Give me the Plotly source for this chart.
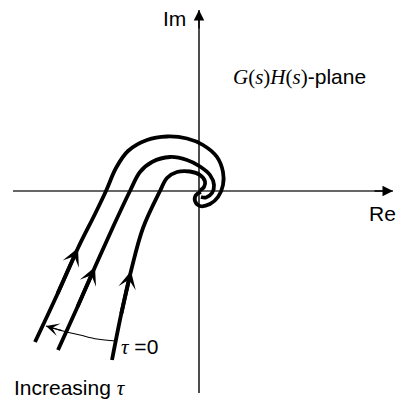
import plotly.graph_objects as go

# Nyquist loci (Re, Im) of G(s)H(s) for three transport lags; the rightmost locus is tau = 0
outer_re = [-164, -142, -121, -104, -93, -83, -71, -52, -32, -12, 4, 18, 24, 24, 19, 11, 1, -4, -3, 2]
outer_im = [-151, -104, -57, -23, 0, 23, 40, 51, 54.5, 52.5, 46, 34, 19, 6, -6, -13, -15, -10, -4, -1]
middle_re = [-141, -122, -104, -86, -69, -59, -47, -29, -12, 1, 11, 15, 13, 7, 2]
middle_im = [-159, -117, -76, -36, 0, 19, 29, 34, 31, 24.5, 16, 6, -2, -6.5, -6]
inner_re = [-87, -78, -68, -56, -39, -32, -22, -9, 1, 6, 5, 1]
inner_im = [-169, -124, -80, -37, 0, 13, 19, 19.5, 16, 9.5, 4, 0.5]

# arc showing the direction of increasing tau
tau_arc_re = [-83, -102, -119, -136, -153]
tau_arc_im = [-150, -148, -144, -140, -135]

# extent of the Re and Im axes
re_axis = [-186, 194]
im_axis = [-202, 181]

SERIF = "Liberation Serif"
SANS = "Liberation Sans"
FS = 21

fig = go.Figure()

# axes
fig.add_trace(go.Scatter(x=re_axis, y=[0, 0], mode="lines",
                         line=dict(color="#333333", width=1.4), hoverinfo="skip"))
fig.add_trace(go.Scatter(x=[0, 0], y=im_axis, mode="lines",
                         line=dict(color="black", width=1.4), hoverinfo="skip"))

# loci
for re, im in [(outer_re, outer_im), (middle_re, middle_im), (inner_re, inner_im)]:
    fig.add_trace(go.Scatter(x=re, y=im, mode="lines",
                             line=dict(color="black", width=3.8, shape="spline", smoothing=1.0),
                             hoverinfo="skip"))

fig.add_trace(go.Scatter(x=tau_arc_re, y=tau_arc_im, mode="lines",
                         line=dict(color="black", width=1.1, shape="spline", smoothing=1.0),
                         hoverinfo="skip"))


def head(tip, tail, width, size, style):
    fig.add_annotation(x=tip[0], y=tip[1], ax=tail[0], ay=tail[1],
                       xref="x", yref="y", axref="x", ayref="y",
                       text="", showarrow=True, arrowhead=style,
                       arrowwidth=width, arrowsize=size, arrowcolor="black",
                       standoff=0, startstandoff=0)


# axis arrowheads
head((re_axis[1], 0), (re_axis[1] - 20, 0), 1.4, 1.5, 2)
head((0, im_axis[1]), (0, im_axis[1] - 20), 1.4, 1.5, 2)

# direction arrows on each locus
for re, im in [(outer_re, outer_im), (middle_re, middle_im), (inner_re, inner_im)]:
    head((re[2], im[2]), (re[1], im[1]), 3.8, 0.78, 3)

# arrow at the end of the tau arc
head((tau_arc_re[-1], tau_arc_im[-1]), (tau_arc_re[-2], tau_arc_im[-2]), 1.1, 2.0, 3)

# labels
def label(x, y, text, xanchor="center"):
    fig.add_annotation(x=x, y=y, xref="x", yref="y", text=text, showarrow=False,
                       xanchor=xanchor, yanchor="middle",
                       font=dict(family=SANS, size=FS, color="black"))

label(-25, 173, "Im")
label(183.5, -22, "Re")
label(100, 114,
      f"<span style='font-family:{SERIF}'><i>G</i>(<i>s</i>)<i>H</i>(<i>s</i>)</span>-plane")
label(-187, -197, f"Increasing <span style='font-family:{SERIF}'><i>τ</i></span>", xanchor="left")
label(-80, -156, f"<span style='font-family:{SERIF}'><i>τ</i></span> =0", xanchor="left")

fig.update_layout(
    width=398, height=400,
    margin=dict(l=0, r=0, t=0, b=0),
    paper_bgcolor="white", plot_bgcolor="white",
    showlegend=False,
    xaxis=dict(range=[-199, 199], visible=False, fixedrange=True),
    yaxis=dict(range=[-209, 191], visible=False, fixedrange=True),
)

fig.write_html("out.html")
